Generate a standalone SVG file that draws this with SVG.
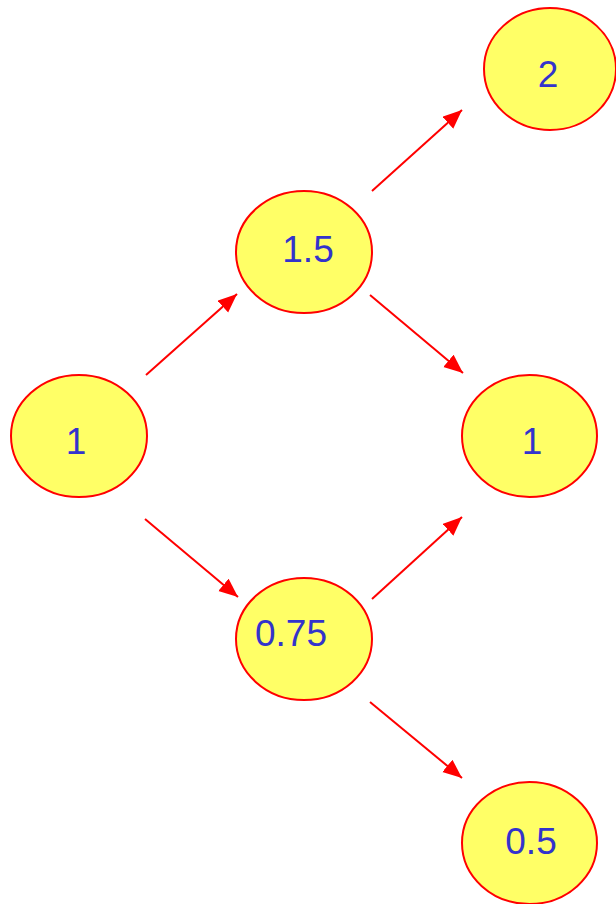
<svg xmlns="http://www.w3.org/2000/svg" width="616" height="904" viewBox="0 0 616 904">
  <style>
    .node ellipse { fill: #ffff66; stroke: #ff0000; stroke-width: 2; }
    .node text { font-family: "Liberation Sans", Arial, sans-serif; font-size: 37px; fill: #3333cc; text-anchor: middle; }
    .edge { stroke: #ff0000; stroke-width: 2; fill: none; marker-end: url(#arrow); }
  </style>
  <defs>
    <marker id="arrow" markerUnits="userSpaceOnUse" markerWidth="20" markerHeight="18" refX="19" refY="8" orient="auto">
      <path d="M0,0 L19,8 L0,16 Z" fill="#ff0000"/>
    </marker>
  </defs>
  <rect width="616" height="904" fill="#ffffff"/>
  <g id="connectors">
    <line class="edge" x1="146" y1="375" x2="237" y2="294"/>
    <line class="edge" x1="372" y1="191" x2="462" y2="110"/>
    <line class="edge" x1="370" y1="295" x2="463" y2="373"/>
    <line class="edge" x1="145" y1="519" x2="238" y2="597"/>
    <line class="edge" x1="372" y1="599" x2="462" y2="517"/>
    <line class="edge" x1="370" y1="702" x2="462" y2="778"/>
  </g>
  <g id="n1" class="node">
    <ellipse cx="79" cy="436" rx="68" ry="61"/>
    <text x="76" y="454">1</text>
  </g>
  <g id="n15" class="node">
    <ellipse cx="304" cy="252" rx="68" ry="61"/>
    <text x="308" y="262">1.5</text>
  </g>
  <g id="n2" class="node">
    <ellipse cx="550" cy="69" rx="66" ry="61"/>
    <text x="548" y="87">2</text>
  </g>
  <g id="n1r" class="node">
    <ellipse cx="529.5" cy="436" rx="67.5" ry="61"/>
    <text x="532" y="454">1</text>
  </g>
  <g id="n075" class="node">
    <ellipse cx="304" cy="639" rx="68" ry="61"/>
    <text x="291" y="646">0.75</text>
  </g>
  <g id="n05" class="node">
    <ellipse cx="529.5" cy="843" rx="67.5" ry="61"/>
    <text x="531" y="854">0.5</text>
  </g>
</svg>
